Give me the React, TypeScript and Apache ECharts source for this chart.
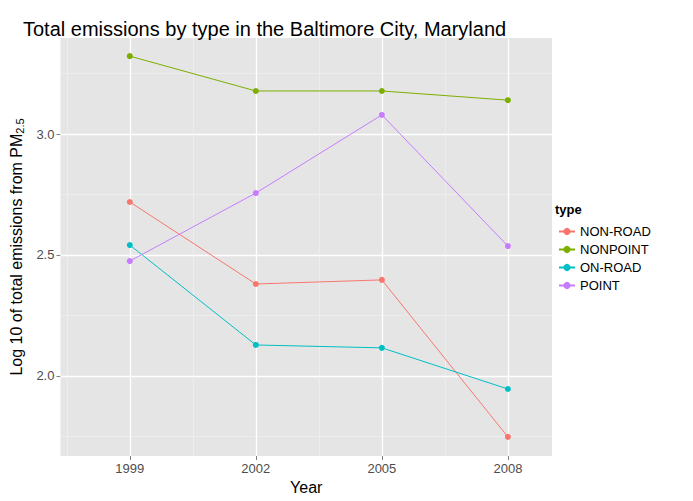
import React, { useEffect, useRef } from "react";
import * as echarts from "echarts";

const years = [1999, 2002, 2005, 2008];
const nonRoad = [2.719, 2.380, 2.397, 1.748];
const nonPoint = [3.322, 3.178, 3.178, 3.140];
const onRoad = [2.541, 2.128, 2.116, 1.946];
const point = [2.475, 2.756, 3.079, 2.537];
const names = ["NON-ROAD", "NONPOINT", "ON-ROAD", "POINT"];
const colors = ["#F8766D", "#7CAE00", "#00BFC4", "#C77CFF"];
const yMajor = [2.0, 2.5, 3.0];
const yMinor = [1.75, 2.25, 2.75, 3.25];
const xMinor = [1997.5, 2000.5, 2003.5, 2006.5];

export default function App() {
  const ref = useRef<HTMLDivElement>(null);
  useEffect(() => {
    const chart = echarts.init(ref.current!, null, { renderer: "svg" });
    const font = "Liberation Sans, Arial, sans-serif";
    const all = [nonRoad, nonPoint, onRoad, point];
    const series: any[] = all.map((v, i) => ({
      name: names[i],
      type: "line",
      data: years.map((y, j) => [y, v[j]]),
      color: colors[i],
      symbol: "circle",
      symbolSize: 6,
      lineStyle: { width: 1 },
      z: 5,
    }));
    series.push({
      type: "line",
      data: [],
      silent: true,
      markLine: {
        silent: true,
        symbol: "none",
        label: { show: false },
        animation: false,
        data: [
          ...yMinor.map((v) => ({ yAxis: v, lineStyle: { color: "#F2F2F2", width: 0.6, type: "solid" } })),
          ...yMajor.map((v) => ({ yAxis: v, lineStyle: { color: "#FFFFFF", width: 1.3, type: "solid" } })),
          ...xMinor.map((v) => ({ xAxis: v, lineStyle: { color: "#F2F2F2", width: 0.6, type: "solid" } })),
          ...years.map((v) => ({ xAxis: v, lineStyle: { color: "#FFFFFF", width: 1.3, type: "solid" } })),
        ],
      },
    });
    chart.setOption({
      animation: false,
      textStyle: { fontFamily: font },
      title: {
        text: "Total emissions by type in the Baltimore City, Maryland",
        left: 18,
        top: 14,
        textStyle: { fontSize: 20, fontWeight: "normal", color: "#000", fontFamily: font },
      },
      grid: {
        left: 58, right: 141, top: 38, bottom: 45,
        show: true, backgroundColor: "#E5E5E5", borderWidth: 0,
      },
      legend: {
        orient: "vertical",
        left: 553,
        top: 220,
        itemWidth: 16,
        itemHeight: 9,
        itemGap: 5,
        textStyle: { fontSize: 13, color: "#000", fontFamily: font },
        data: names,
      },
      graphic: [
        { type: "text", left: 555, top: 203, style: { text: "type", font: "bold 13px Liberation Sans, Arial", fill: "#000" } },
      ],
      xAxis: {
        type: "value",
        min: 1997.35,
        max: 2009.05,
        name: "Year",
        nameLocation: "middle",
        nameGap: 22,
        nameTextStyle: { fontSize: 16, color: "#000" },
        axisLine: { show: false },
        axisTick: { show: true, customValues: years, length: 4, lineStyle: { color: "#7F7F7F" } },
        axisLabel: { customValues: years, color: "#4D4D4D", fontSize: 13, margin: 6, formatter: (v: number) => String(Math.round(v)) },
        splitLine: { show: false },
      },
      yAxis: {
        type: "value",
        min: 1.669,
        max: 3.397,
        name: "Log 10 of total emissions from PM{s|2.5}",
        nameLocation: "middle",
        nameGap: 34,
        nameTextStyle: { fontSize: 16, color: "#000", rich: { s: { fontSize: 11, verticalAlign: "bottom", padding: [8, 0, 0, 0] } } },
        axisLine: { show: false },
        axisTick: { show: true, customValues: yMajor, length: 4, lineStyle: { color: "#7F7F7F" } },
        axisLabel: { customValues: yMajor, color: "#4D4D4D", fontSize: 13, margin: 6, formatter: (v: number) => v.toFixed(1) },
        splitLine: { show: false },
      },
      series,
    });
    return () => chart.dispose();
  }, []);
  return <div ref={ref} style={{ width: 693, height: 501, position: "absolute", left: 0, top: 0 }} />;
}
